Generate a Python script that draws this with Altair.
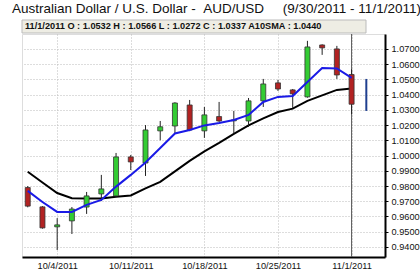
import altair as alt
import pandas as pd

# trading-day index 0 = 9/30/2011
dates = ["9/30/2011", "10/3/2011", "10/4/2011", "10/5/2011", "10/6/2011", "10/7/2011",
         "10/10/2011", "10/11/2011", "10/12/2011", "10/13/2011", "10/14/2011",
         "10/17/2011", "10/18/2011", "10/19/2011", "10/20/2011", "10/21/2011",
         "10/24/2011", "10/25/2011", "10/26/2011", "10/27/2011", "10/28/2011",
         "10/31/2011", "11/1/2011"]
opens = [0.9790, 0.9663, 0.9532, 0.9571, 0.9662, 0.9748, 0.9735, 0.9991, 0.9951, 1.0162, 1.0194,
         1.0332, 1.0162, 1.0256, 1.0228, 1.0227, 1.0359, 1.0477, 1.0431, 1.0385, 1.0726,
         1.0700, 1.0532]
highs = [0.9800, 0.9668, 0.9589, 0.9662, 0.9761, 0.9873, 1.0017, 1.0004, 1.0200, 1.0227, 1.0350,
         1.0365, 1.0319, 1.0352, 1.0293, 1.0378, 1.0503, 1.0496, 1.0437, 1.0753, 1.0730,
         1.0720, 1.0566]
lows = [0.9660, 0.9520, 0.9380, 0.9485, 0.9617, 0.9701, 0.9730, 0.9905, 0.9866, 1.0100, 1.0145,
        1.0160, 1.0116, 1.0220, 1.0145, 1.0188, 1.0319, 1.0424, 1.0313, 1.0380, 1.0661,
        1.0503, 1.0272]
closes = [0.9668, 0.9525, 0.9545, 0.9649, 0.9735, 0.9781, 0.9991, 0.9958, 1.0168, 1.0189, 1.0345,
          1.0168, 1.0267, 1.0227, 1.0234, 1.0359, 1.0470, 1.0437, 1.0405, 1.0713, 1.0707,
          1.0529, 1.0337]
sma_short = [0.9768, 0.9695, 0.9630, 0.9630, 0.9676, 0.9709, 0.9796, 0.9873, 0.9955, 1.0050,
             1.0145, 1.0168, 1.0198, 1.0214, 1.0234, 1.0267, 1.0352, 1.0385, 1.0391, 1.0483,
             1.0575, 1.0572, 1.0510]
sma10 = [0.9894, 0.9823, 0.9754, 0.9720, 0.9718, 0.9718, 0.9730, 0.9738, 0.9784, 0.9827,
         0.9896, 0.9965, 1.0027, 1.0083, 1.0142, 1.0198, 1.0244, 1.0286, 1.0308, 1.0359,
         1.0395, 1.0431, 1.0440]
# range bar drawn at the next (empty) trading day
range_idx = [23]
range_low = [1.0293]
range_high = [1.0503]

tick_idx = [2, 7, 12, 17, 22]
tick_labels = ["10/4/2011", "10/11/2011", "10/18/2011", "10/25/2011", "11/1/2011"]
y_ticks = [round(0.94 + 0.01 * k, 2) for k in range(14)]

NB = "\u00a0"
title_text = ("Australian Dollar / U.S. Dollar -" + NB + NB + "AUD/USD" + NB * 5
              + "(9/30/2011 - 11/1/2011)")
info_text = "11/1/2011 O : 1.0532 H : 1.0566 L : 1.0272 C : 1.0337 A10SMA : 1.0440"

df = pd.DataFrame({"i": list(range(len(dates))), "date": dates, "open": opens, "high": highs,
                   "low": lows, "close": closes, "s5": sma_short, "s10": sma10})
df["dir"] = ["up" if c >= o else "down" for o, c in zip(opens, closes)]
rng = pd.DataFrame({"i": range_idx, "lo": range_low, "hi": range_high})

label_map = "{" + ",".join(f"'{k}':'{v}'" for k, v in zip(tick_idx, tick_labels)) + "}"

xs = alt.Scale(domain=[-0.05, 23.93], nice=False, zero=False)
ys = alt.Scale(domain=[0.9334, 1.0798], nice=False, zero=False)

x_axis = alt.Axis(values=tick_idx, labelExpr=label_map + "[datum.value]", title=None,
                  grid=True, gridDash=[1, 2], gridColor="#bbbbbb", domainColor="#000000",
                  domainWidth=2, tickSize=0, labelPadding=4, labelFontSize=9.2,
                  labelColor="#111111", labelFont="Liberation Sans", labelAngle=0,
                  labelOverlap=False)
y_axis = alt.Axis(values=y_ticks, format=".4f", orient="right", title=None, grid=True,
                  gridDash=[1, 2], gridColor="#bbbbbb", domainColor="#000000", domainWidth=2,
                  tickSize=3, tickColor="#000000", labelPadding=3, labelFontSize=9.2,
                  labelColor="#111111", labelFont="Liberation Sans", labelOverlap=False,
                  labelFlush=False, labelBound=False)

base = alt.Chart(df)

grid_layer = base.mark_point(opacity=0).encode(
    x=alt.X("i:Q", scale=xs, axis=x_axis),
    y=alt.Y("close:Q", scale=ys, axis=y_axis),
)

crosshair = alt.Chart(pd.DataFrame({"i": [22]})).mark_rule(color="#555555", strokeWidth=1).encode(
    x=alt.X("i:Q", scale=xs, axis=None), y=alt.value(0), y2=alt.value(223))

sma10_line = base.mark_line(color="#000000", strokeWidth=2, clip=True).encode(
    x=alt.X("i:Q", scale=xs, axis=None), y=alt.Y("s10:Q", scale=ys, axis=None))

wicks = base.mark_rule(color="#222222", strokeWidth=1, clip=True).encode(
    x=alt.X("i:Q", scale=xs, axis=None), y=alt.Y("low:Q", scale=ys, axis=None), y2="high:Q")

bodies = base.mark_bar(size=5, stroke="#333333", strokeWidth=0.8, clip=True).encode(
    x=alt.X("i:Q", scale=xs, axis=None), y=alt.Y("open:Q", scale=ys, axis=None), y2="close:Q",
    color=alt.Color("dir:N", scale=alt.Scale(domain=["up", "down"], range=["#33cc33", "#b22222"]),
                    legend=None))

sma5_line = base.mark_line(color="#1a1ae6", strokeWidth=2, clip=True).encode(
    x=alt.X("i:Q", scale=xs, axis=None), y=alt.Y("s5:Q", scale=ys, axis=None))

range_bar = alt.Chart(rng).mark_rule(color="#1f3f8f", strokeWidth=2).encode(
    x=alt.X("i:Q", scale=xs, axis=None), y=alt.Y("lo:Q", scale=ys, axis=None), y2="hi:Q")

info_box = alt.Chart(pd.DataFrame({"t": [info_text]})).mark_rect(
    fill="#eeede4", stroke="#bbbbbb", strokeWidth=1, clip=False).encode(
    x=alt.value(0), x2=alt.value(344), y=alt.value(-14), y2=alt.value(-1))

info_label = alt.Chart(pd.DataFrame({"t": [info_text]})).mark_text(
    align="left", baseline="alphabetic", fontSize=9.2, fontWeight="bold",
    font="Liberation Sans", color="#111111", clip=False).encode(
    x=alt.value(3), y=alt.value(-5), text="t:N")

title_label = alt.Chart(pd.DataFrame({"t": [title_text]})).mark_text(
    align="left", baseline="alphabetic", fontSize=13.5, font="Liberation Sans",
    color="#111111", clip=False).encode(
    x=alt.value(-10), y=alt.value(-21), text="t:N")

chart = alt.layer(grid_layer, crosshair, sma10_line, wicks, bodies, sma5_line, range_bar,
                  info_box, info_label, title_label).resolve_scale(
    x="shared", y="shared").resolve_axis(x="independent", y="independent").properties(
    width=363, height=223,
    autosize=alt.AutoSizeParams(type="none"),
    padding={"left": 22, "top": 34, "right": 35, "bottom": 15},
).configure_view(stroke="#cccccc", strokeWidth=1).configure_axis(
    labelOverlap=False).configure(background="#ffffff")

chart.save("out.html", embed_options={"renderer": "svg", "actions": False})
